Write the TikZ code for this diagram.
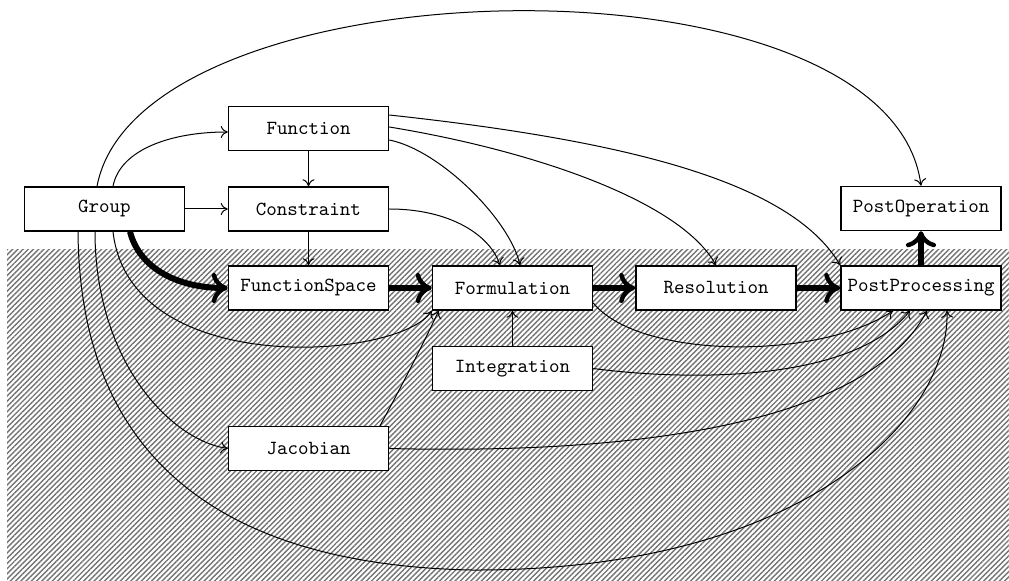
\documentclass[tikz,border=0pt]{standalone}
\usetikzlibrary{calc,arrows.meta,patterns.meta}
\begin{document}
\begin{tikzpicture}[x=0.5pt,y=-0.5pt,
  box/.style={draw=black,line width=0.75pt,fill=white,minimum width=80pt,minimum height=22pt,inner sep=0pt,font=\ttfamily},
  lightarrow/.style={line width=0.5pt,-{Computer Modern Rightarrow[length=3.5pt,width=6pt,line width=0.5pt]}},
  heavyarrow/.style={line width=3pt,-{Computer Modern Rightarrow[length=8pt,width=15pt,line width=2.2pt]}}]
\useasboundingbox (0,0) rectangle (1009,581);
\fill[pattern={Lines[angle=45,distance=1.85pt,line width=0.7pt]},pattern color=black!55] (7,250) rectangle (1009,581);
% nodes
\node[box] (G)  at (104.5,209) {Group};
\node[box] (F)  at (308.5,128.5) {Function};
\node[box] (C)  at (308.5,209) {Constraint};
\node[box] (FS) at (308.5,288) {FunctionSpace};
\node[box] (Fm) at (512.5,288) {Formulation};
\node[box] (R)  at (716,288) {Resolution};
\node[box] (PP) at (921,288) {PostProcessing};
\node[box] (PO) at (921,208.5) {PostOperation};
\node[box] (I)  at (512.5,368.5) {Integration};
\node[box] (J)  at (308.5,448.5) {Jacobian};
% thin connectors
\draw[lightarrow] ($(G.north)+(-7.5,0)$) .. controls (140,-40) and (890,-55) .. (PO.north);
\draw[lightarrow] ($(G.north)+(8.5,0)$) .. controls (120,150) and (170,132) .. ($(F.west)+(0,3.5)$);
\draw[lightarrow] (G.east) -- (C.west);
\draw[lightarrow] ($(G.south)+(8.5,0)$) .. controls (130,380) and (400,360) .. (Fm.south west);
\draw[lightarrow] ($(G.south)+(-9.5,0)$) .. controls (95,360) and (170,440) .. (J.west);
\draw[lightarrow] ($(G.south)+(-26.5,0)$) .. controls (80,480) and (250,565) .. (470,570) .. controls (800,572) and (950,420) .. ($(PP.south)+(26,0)$);
\draw[lightarrow] (F.south) -- (C.north);
\draw[lightarrow] (C.south) -- (FS.north);
\draw[lightarrow] ($(F.east)+(0,11.5)$) .. controls (440,150) and (510,220) .. ($(Fm.north)+(7.5,0)$);
\draw[lightarrow] ($(F.east)+(0,-1.5)$) .. controls (530,150) and (680,200) .. (R.north);
\draw[lightarrow] ($(F.east)+(0,-13.5)$) .. controls (620,140) and (790,180) .. (PP.north west);
\draw[lightarrow] (C.east) .. controls (450,209) and (490,235) .. ($(Fm.north)+(-12.5,0)$);
\draw[lightarrow] (I.north) -- (Fm.south);
\draw[lightarrow] ($(J.north)+(71.5,0)$) .. controls (405,380) and (425,340) .. ($(Fm.south west)+(7,0)$);
\draw[lightarrow] ($(Fm.east)+(0,15)$) .. controls (640,360) and (820,360) .. ($(PP.south)+(-28,0)$);
\draw[lightarrow] (I.east) .. controls (680,380) and (850,385) .. ($(PP.south)+(-11,0)$);
\draw[lightarrow] (J.east) .. controls (650,455) and (870,420) .. ($(PP.south)+(6,0)$);
% thick connectors
\draw[heavyarrow] ($(G.south)+(25.5,0)$) .. controls (140,270) and (180,288) .. (FS.west);
\draw[heavyarrow] (FS.east) -- (Fm.west);
\draw[heavyarrow] (Fm.east) -- (R.west);
\draw[heavyarrow] (R.east) -- (PP.west);
\draw[heavyarrow] (PP.north) -- (PO.south);
\end{tikzpicture}
\end{document}
